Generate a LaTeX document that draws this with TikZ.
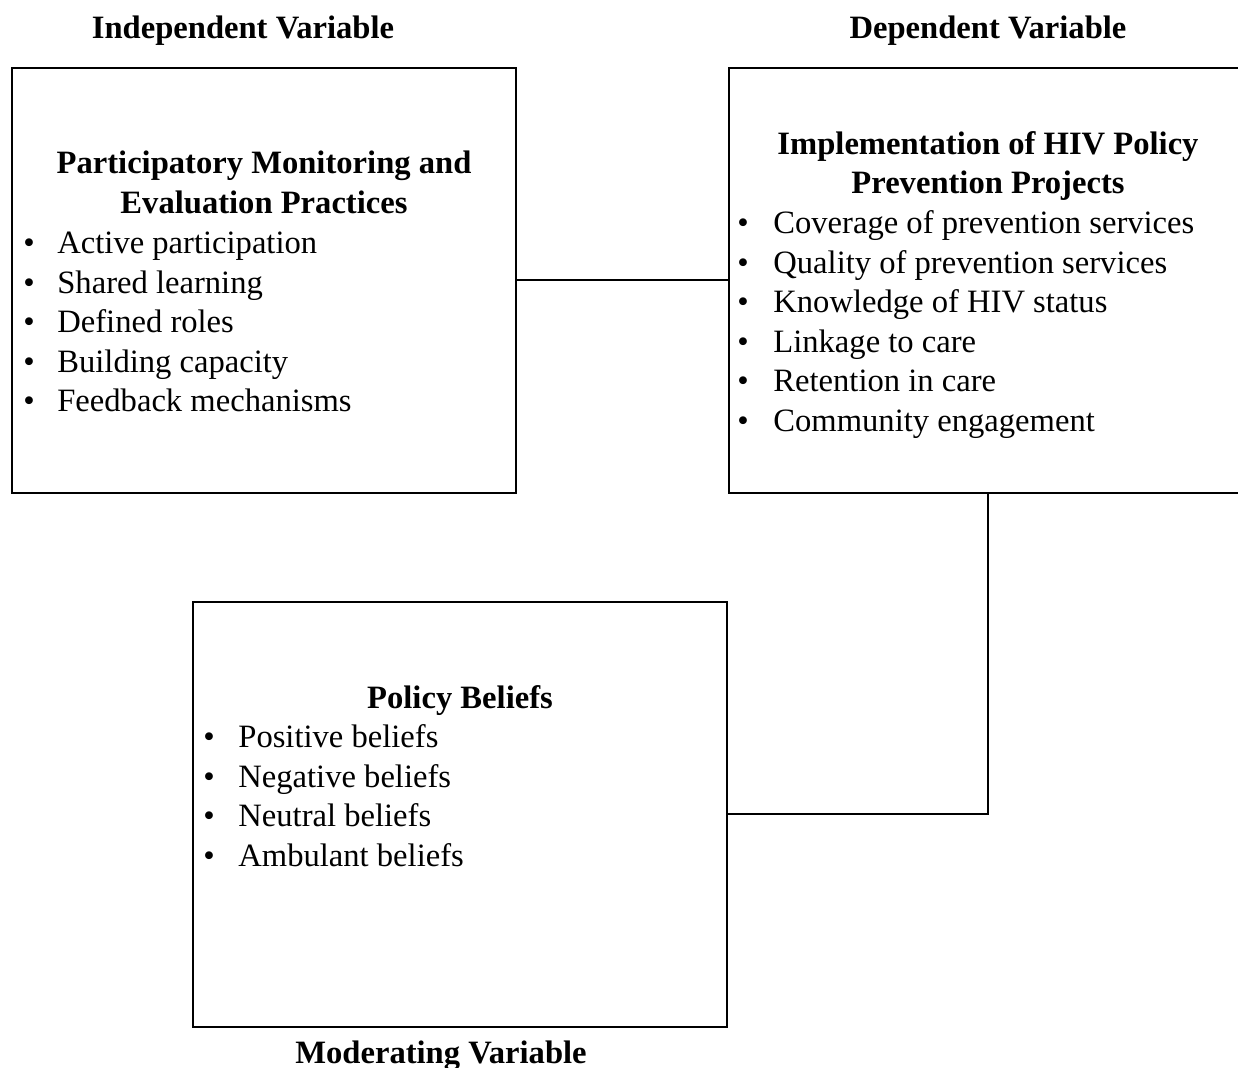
\documentclass[tikz,border=0pt]{standalone}
\usepackage{fontspec}
\setmainfont{Liberation Serif}

\begin{document}
\begin{tikzpicture}[x=0.5pt,y=-0.5pt,font=\fontsize{16.3}{19.7}\selectfont,
    box/.style={draw,line width=1pt,minimum width=#1,minimum height=212.5pt,inner sep=0pt},
    head/.style={font=\fontsize{16.3}{19.7}\selectfont\bfseries,anchor=base,inner sep=0pt},
    item/.style={anchor=base west,inner sep=0pt}]
\clip (0,0) rectangle (1238,1068);

% headings
\node[head] (indhead) at (243,39) {Independent Variable};
\node[head] (dephead) at (988,39) {Dependent Variable};
\node[head] (modhead) at (441,1064) {Moderating Variable};

% boxes
\node[box=252pt] (ind) at (264,280.5) {};
\node[box=259pt] (dep) at (988,280.5) {};
\node[box=267pt] (mod) at (460,814.5) {};

% independent variable
\node[head] (indt1) at (264,174) {Participatory Monitoring and};
\node[head] (indt2) at (264,214) {Evaluation Practices};
\foreach \txt [count=\i] in {Active participation,Shared learning,Defined roles,Building capacity,Feedback mechanisms}
    \node[item] (indi\i) at (23,{214.5+39.5*\i}) {\makebox[17pt][l]{\textbullet}\txt};

% dependent variable
\node[head] (dept1) at (988,154.5) {Implementation of HIV Policy};
\node[head] (dept2) at (988,194) {Prevention Projects};
\foreach \txt [count=\i] in {Coverage of prevention services,Quality of prevention services,Knowledge of HIV status,Linkage to care,Retention in care,Community engagement}
    \node[item] (depi\i) at (737,{194.5+39.5*\i}) {\makebox[18pt][l]{\textbullet}\txt};

% moderating variable
\node[head] (modt1) at (460,709) {Policy Beliefs};
\foreach \txt [count=\i] in {Positive beliefs,Negative beliefs,Neutral beliefs,Ambulant beliefs}
    \node[item] (modi\i) at (203,{708.5+39.5*\i}) {\makebox[17.5pt][l]{\textbullet}\txt};

% links
\draw[line width=1pt] (ind.east) -- (dep.west);
\draw[line width=1pt] (dep.south) |- (mod.east);
\end{tikzpicture}
\end{document}
